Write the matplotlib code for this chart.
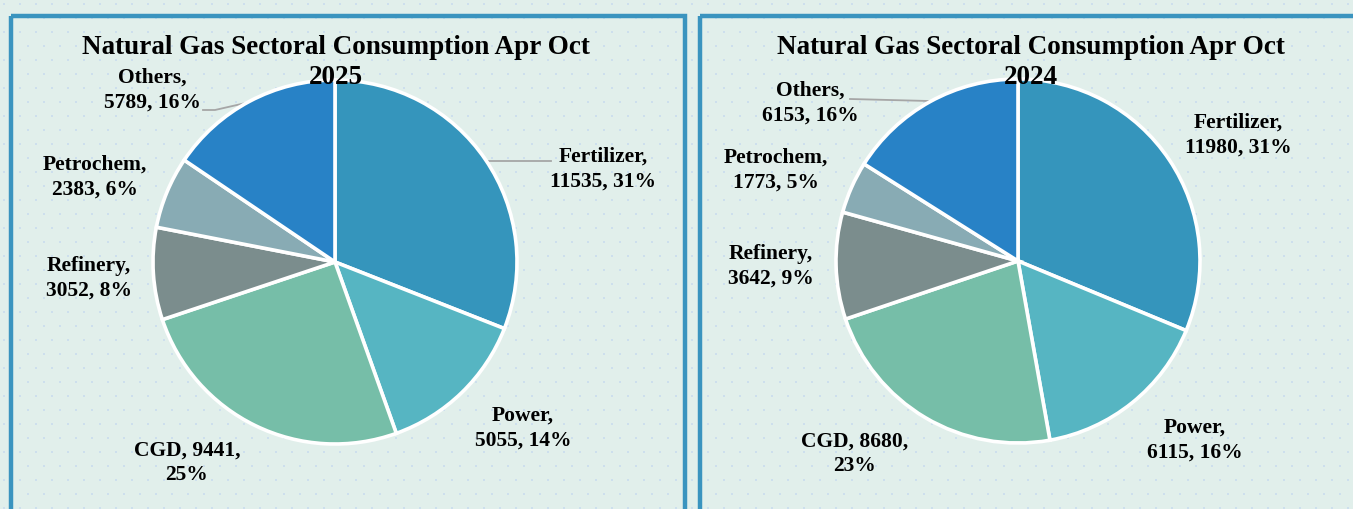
import matplotlib
matplotlib.use("Agg")
import matplotlib.pyplot as plt
import numpy as np
from matplotlib.patches import Rectangle
from matplotlib.lines import Line2D

# ---- data ----
categories = ["Fertilizer", "Power", "CGD", "Refinery", "Petrochem", "Others"]
values_2025 = [11535, 5055, 9441, 3052, 2383, 5789]
values_2024 = [11980, 6115, 8680, 3642, 1773, 6153]
title_main = "Natural Gas Sectoral Consumption Apr Oct"
title_years = ["2025", "2024"]
colors = ["#3595BC", "#56B5C2", "#76BEA8", "#7B8D8D", "#88ABB4", "#2882C6"]

W, H = 1353, 509
fig = plt.figure(figsize=(W / 100, H / 100), dpi=100)
fig.patch.set_facecolor("#E1EFEB")
FONT = ["Liberation Serif", "DejaVu Serif"]

# background axes in pixel coordinates
bg = fig.add_axes([0, 0, 1, 1], zorder=-5)
bg.set_xlim(0, W)
bg.set_ylim(H, 0)
bg.axis("off")
gx, gy = np.meshgrid(np.arange(4, W, 16), np.arange(4, H, 14))
gx = gx + (np.arange(gx.shape[0])[:, None] % 2) * 8
bg.scatter(gx.ravel(), gy.ravel(), s=3, marker="s", color="#C8DCEE", lw=0, alpha=0.8)

border = "#3A94BF"
bg.add_patch(Rectangle((11, 16), 674, 520, fill=False, ec=border, lw=3.2))
bg.add_patch(Rectangle((700, 16), 700, 520, fill=False, ec=border, lw=3.2))

# layout (pixel positions)
centers = [(335, 262), (1018, 261)]
R = 182
title_x = [336, 1031]
title_y = [47, 77]
label_pos = [
    [(603, 169), (523, 428), (187, 463), (89, 278), (95, 177), (152, 90)],
    [(1238, 135), (1195, 440), (855, 454), (771, 266), (776, 170), (810, 103)],
]
leaders = [
    [([486, 551], [161, 161]), ([203, 215, 250], [110, 110, 102])],
    [([850, 929], [99, 101])],
]
label_breaks = [
    ["{c},\n{v}, {p}%", "{c},\n{v}, {p}%", "{c}, {v},\n{p}%", "{c},\n{v}, {p}%", "{c},\n{v}, {p}%", "{c},\n{v}, {p}%"],
    ["{c},\n{v}, {p}%", "{c},\n{v}, {p}%", "{c}, {v},\n{p}%", "{c},\n{v}, {p}%", "{c},\n{v}, {p}%", "{c},\n{v}, {p}%"],
]

for k, vals in enumerate([values_2025, values_2024]):
    cx, cy = centers[k]
    ax = fig.add_axes([(cx - R) / W, 1 - (cy + R) / H, 2 * R / W, 2 * R / H])
    wedges, _ = ax.pie(vals, colors=colors, startangle=90, counterclock=False,
                       radius=1, wedgeprops=dict(edgecolor="white", linewidth=2.6))
    for w in wedges:
        w.set_clip_on(False)
    ax.set_xlim(-1, 1)
    ax.set_ylim(-1, 1)
    ax.set_aspect("equal")
    ax.axis("off")

    for line, yy in zip([title_main, title_years[k]], title_y):
        fig.text(title_x[k] / W, 1 - yy / H, line, ha="center", va="center",
                 fontsize=19.5, fontweight="bold", family=FONT, zorder=10)

    total = sum(vals)
    for i, (c, v) in enumerate(zip(categories, vals)):
        p = int(round(100 * v / total))
        s = label_breaks[k][i].format(c=c, v=v, p=p)
        lx, ly = label_pos[k][i]
        fig.text(lx / W, 1 - ly / H, s, ha="center", va="center",
                 fontsize=15.5, fontweight="bold", family=FONT, linespacing=1.3, zorder=10)

    for xs, ys in leaders[k]:
        bg.add_line(Line2D(xs, ys, color="#A6A6A6", lw=1.3))

fig.savefig("out.png", dpi=100, facecolor=fig.get_facecolor())
